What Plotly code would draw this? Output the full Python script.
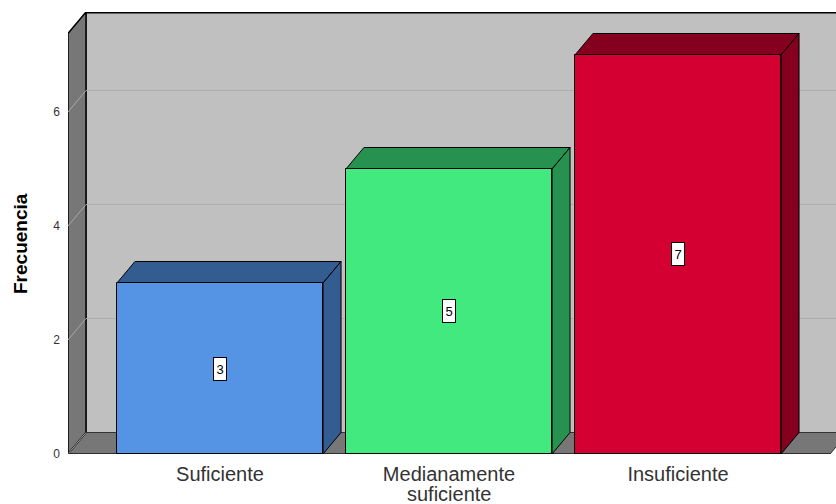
import plotly.graph_objects as go

categories = ["Suficiente", "Medianamente", "Insuficiente"]
category_second_lines = ["", "suficiente", ""]
values = [3, 5, 7]
front_colors = ["#5594E4", "#41E97E", "#D50032"]
dark_colors = ["#335C90", "#27914F", "#85001F"]
y_ticks = [0, 2, 4, 6]

# geometry (data units)
xr = [-0.6638, 2.69]
yr = [0, 7.754]
bw = 0.9
dx = 0.0786
dy = 0.377
x_floor_end = 2.664
FONT = "Liberation Sans, Arial"

fig = go.Figure()
xs = list(range(len(categories)))
fig.add_trace(go.Bar(
    x=xs, y=values, width=bw,
    marker=dict(color=front_colors, line=dict(color="black", width=1)),
    hoverinfo="skip", showlegend=False,
))

shapes = []
x0 = xr[0]
# back wall
shapes.append(dict(type="rect", xref="x", yref="y", x0=x0 + dx, x1=xr[1] + 1, y0=dy, y1=yr[1] + 1,
                   fillcolor="#C0C0C0", line=dict(color="black", width=1), layer="below"))
# top edge
shapes.append(dict(type="line", xref="x", yref="y", x0=x0 + dx, x1=xr[1] + 1, y0=yr[1], y1=yr[1],
                   line=dict(color="black", width=3), layer="below"))
# floor
shapes.append(dict(type="path", xref="x", yref="y",
                   path=f"M {x0},0 L {x0+dx},{dy} L {x_floor_end+dx},{dy} L {x_floor_end},0 Z",
                   fillcolor="#777777", line=dict(color="#333333", width=1), layer="below"))
# left wall
shapes.append(dict(type="path", xref="x", yref="y",
                   path=f"M {x0},0 L {x0+dx},{dy} L {x0+dx},{yr[1]} L {x0},{yr[1]-dy} Z",
                   fillcolor="#777777", line=dict(color="black", width=1.5), layer="below"))
# gridlines
for v in y_ticks[1:]:
    shapes.append(dict(type="line", xref="x", yref="y", x0=x0 + dx, x1=xr[1] + 1, y0=v + dy, y1=v + dy,
                       line=dict(color="#AEAEAE", width=1), layer="below"))
    shapes.append(dict(type="line", xref="x", yref="y", x0=x0, x1=x0 + dx, y0=v, y1=v + dy,
                       line=dict(color="#A8A8A8", width=1), layer="below"))
shapes.append(dict(type="line", xref="x", yref="y", x0=x0, x1=x0 + dx, y0=0, y1=dy,
                   line=dict(color="#A8A8A8", width=1), layer="below"))
# front edge of floor
shapes.append(dict(type="line", xref="x", yref="y", x0=x0, x1=x_floor_end, y0=0, y1=0,
                   line=dict(color="#222222", width=1.5), layer="below"))
# bar side/top faces
for i, v in enumerate(values):
    xl = i - bw / 2
    xrt = i + bw / 2
    shapes.append(dict(type="path", xref="x", yref="y",
                       path=f"M {xl},{v} L {xl+dx},{v+dy} L {xrt+dx},{v+dy} L {xrt},{v} Z",
                       fillcolor=dark_colors[i], line=dict(color="black", width=1), layer="below"))
    shapes.append(dict(type="path", xref="x", yref="y",
                       path=f"M {xrt},0 L {xrt+dx},{dy} L {xrt+dx},{v+dy} L {xrt},{v} Z",
                       fillcolor=dark_colors[i], line=dict(color="black", width=1), layer="below"))

annotations = []
for i, v in enumerate(values):
    annotations.append(dict(x=i, y=v / 2, xref="x", yref="y", text=str(v), showarrow=False,
                            font=dict(family=FONT, size=13, color="black"),
                            width=8, height=18,
                            bgcolor="white", bordercolor="black", borderwidth=1, borderpad=2))
# second lines of category labels
for i, t in enumerate(category_second_lines):
    if t:
        annotations.append(dict(x=i, y=-40 / 442, xref="x", yref="paper", text=t, showarrow=False,
                                yanchor="middle", font=dict(family=FONT, size=20, color="#333333")))
# y-axis title
annotations.append(dict(x=-48 / 768, y=210 / 442, xref="paper", yref="paper", text="<b>Frecuencia</b>",
                        showarrow=False, textangle=-90, xanchor="center", yanchor="middle",
                        font=dict(family=FONT, size=19, color="black")))

fig.update_layout(
    width=836, height=504,
    margin=dict(l=68, r=0, t=12, b=50),
    paper_bgcolor="white", plot_bgcolor="white",
    shapes=shapes, annotations=annotations,
    bargap=0,
    xaxis=dict(range=xr, tickvals=xs, ticktext=categories, showgrid=False, zeroline=False,
               showline=False, ticks="", ticklabelstandoff=6,
               tickfont=dict(family=FONT, size=20, color="#333333")),
    yaxis=dict(range=yr, tickvals=y_ticks, showgrid=False, zeroline=False, showline=False,
               ticks="", ticklabelstandoff=7,
               tickfont=dict(family=FONT, size=12, color="#333333")),
)

fig.write_html("out.html")
